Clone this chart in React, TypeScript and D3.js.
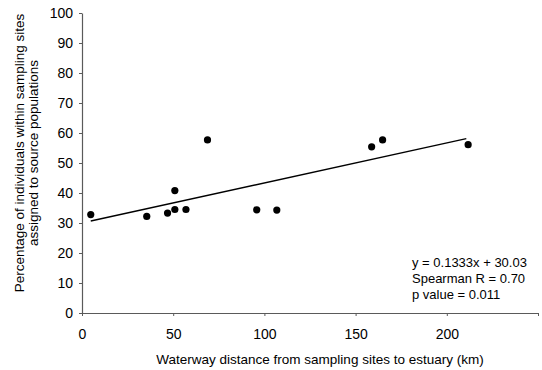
import { useEffect, useRef } from "react";
import * as d3 from "d3";

// distancia (km) y porcentaje asignado a poblaciones fuente
const distancias = [4.8, 35.5, 46.9, 50.9, 50.9, 57, 68.8, 95.8, 106.8, 158.8, 164.8, 211.7];
const porcentajes = [32.8, 32.2, 33.3, 34.5, 40.8, 34.5, 57.7, 34.4, 34.3, 55.4, 57.7, 56.1];

const xTicks = [0, 50, 100, 150, 200, 250];
const xTickLabels = ["0", "50", "100", "150", "200", ""];
const yTicks = [0, 10, 20, 30, 40, 50, 60, 70, 80, 90, 100];

const pendiente = 0.1333;
const intercepto = 30.03;
const anotaciones = ["y = 0.1333x + 30.03", "Spearman R = 0.70", "p value = 0.011"];

const App = () => {
  const ref = useRef<SVGSVGElement | null>(null);

  useEffect(() => {
    if (!ref.current) return;
    const svg = d3.select(ref.current);
    svg.selectAll("*").remove();

    const font = "Arial, 'Liberation Sans', sans-serif";
    const ejeColor = "#5a5a5a";

    const x = d3.scaleLinear().domain([0, 250]).range([82, 538]);
    const y = d3.scaleLinear().domain([0, 100]).range([313, 13]);

    // Eje Y
    const yAxis = svg
      .append("g")
      .attr("transform", `translate(${x(0)},0)`)
      .call(d3.axisLeft(y).tickValues(yTicks).tickSize(3).tickSizeOuter(0).tickPadding(6));
    yAxis.select(".domain").attr("stroke", ejeColor).attr("stroke-width", 1.2);
    yAxis.selectAll("line").attr("stroke", ejeColor);
    yAxis
      .selectAll("text")
      .attr("fill", "#000")
      .style("font-family", font)
      .style("font-size", "14px");

    // Eje X
    const xAxis = svg
      .append("g")
      .attr("transform", `translate(0,${y(0)})`)
      .call(
        d3
          .axisBottom(x)
          .tickValues(xTicks)
          .tickFormat((_d, i) => xTickLabels[i])
          .tickSize(3)
          .tickSizeOuter(0)
          .tickPadding(13)
      );
    xAxis.select(".domain").attr("stroke", ejeColor).attr("stroke-width", 1.2);
    xAxis.selectAll("line").attr("stroke", ejeColor);
    xAxis
      .selectAll("text")
      .attr("fill", "#000")
      .style("font-family", font)
      .style("font-size", "14px");

    // Línea de tendencia
    const xMin = d3.min(distancias) as number;
    const xMax = d3.max(distancias) as number;
    svg
      .append("line")
      .attr("x1", x(xMin))
      .attr("y1", y(pendiente * xMin + intercepto))
      .attr("x2", x(xMax - 1))
      .attr("y2", y(pendiente * (xMax - 1) + intercepto))
      .attr("stroke", "#000")
      .attr("stroke-width", 1.4);

    // Puntos
    svg
      .selectAll(".punto")
      .data(distancias)
      .enter()
      .append("circle")
      .attr("class", "punto")
      .attr("cx", (d) => x(d))
      .attr("cy", (_d, i) => y(porcentajes[i]))
      .attr("r", 3.6)
      .attr("fill", "#000");

    // Anotaciones
    svg
      .selectAll(".anot")
      .data(anotaciones)
      .enter()
      .append("text")
      .attr("class", "anot")
      .attr("x", 412)
      .attr("y", (_d, i) => 267 + i * 16)
      .style("font-family", font)
      .style("font-size", "13px")
      .attr("fill", "#000")
      .text((d) => d);

    // Etiqueta eje X
    svg
      .append("text")
      .attr("x", 320)
      .attr("y", 364)
      .attr("text-anchor", "middle")
      .style("font-family", font)
      .style("font-size", "13.5px")
      .attr("fill", "#000")
      .text("Waterway distance from sampling sites to estuary (km)");

    // Etiqueta eje Y (dos líneas)
    const yLabel = svg
      .append("text")
      .attr("transform", "translate(0,153) rotate(-90)")
      .attr("text-anchor", "middle")
      .style("font-family", font)
      .style("font-size", "13.5px")
      .attr("fill", "#000");
    yLabel.append("tspan").attr("x", 0).attr("y", 23.5).text("Percentage of individuals within sampling sites");
    yLabel.append("tspan").attr("x", 0).attr("y", 38).text("assigned to source populations");
  }, []);

  return (
    <svg
      ref={ref}
      width={542}
      height={370}
      style={{ position: "absolute", left: 0, top: 0, background: "#fff" }}
    />
  );
};

export default App;
